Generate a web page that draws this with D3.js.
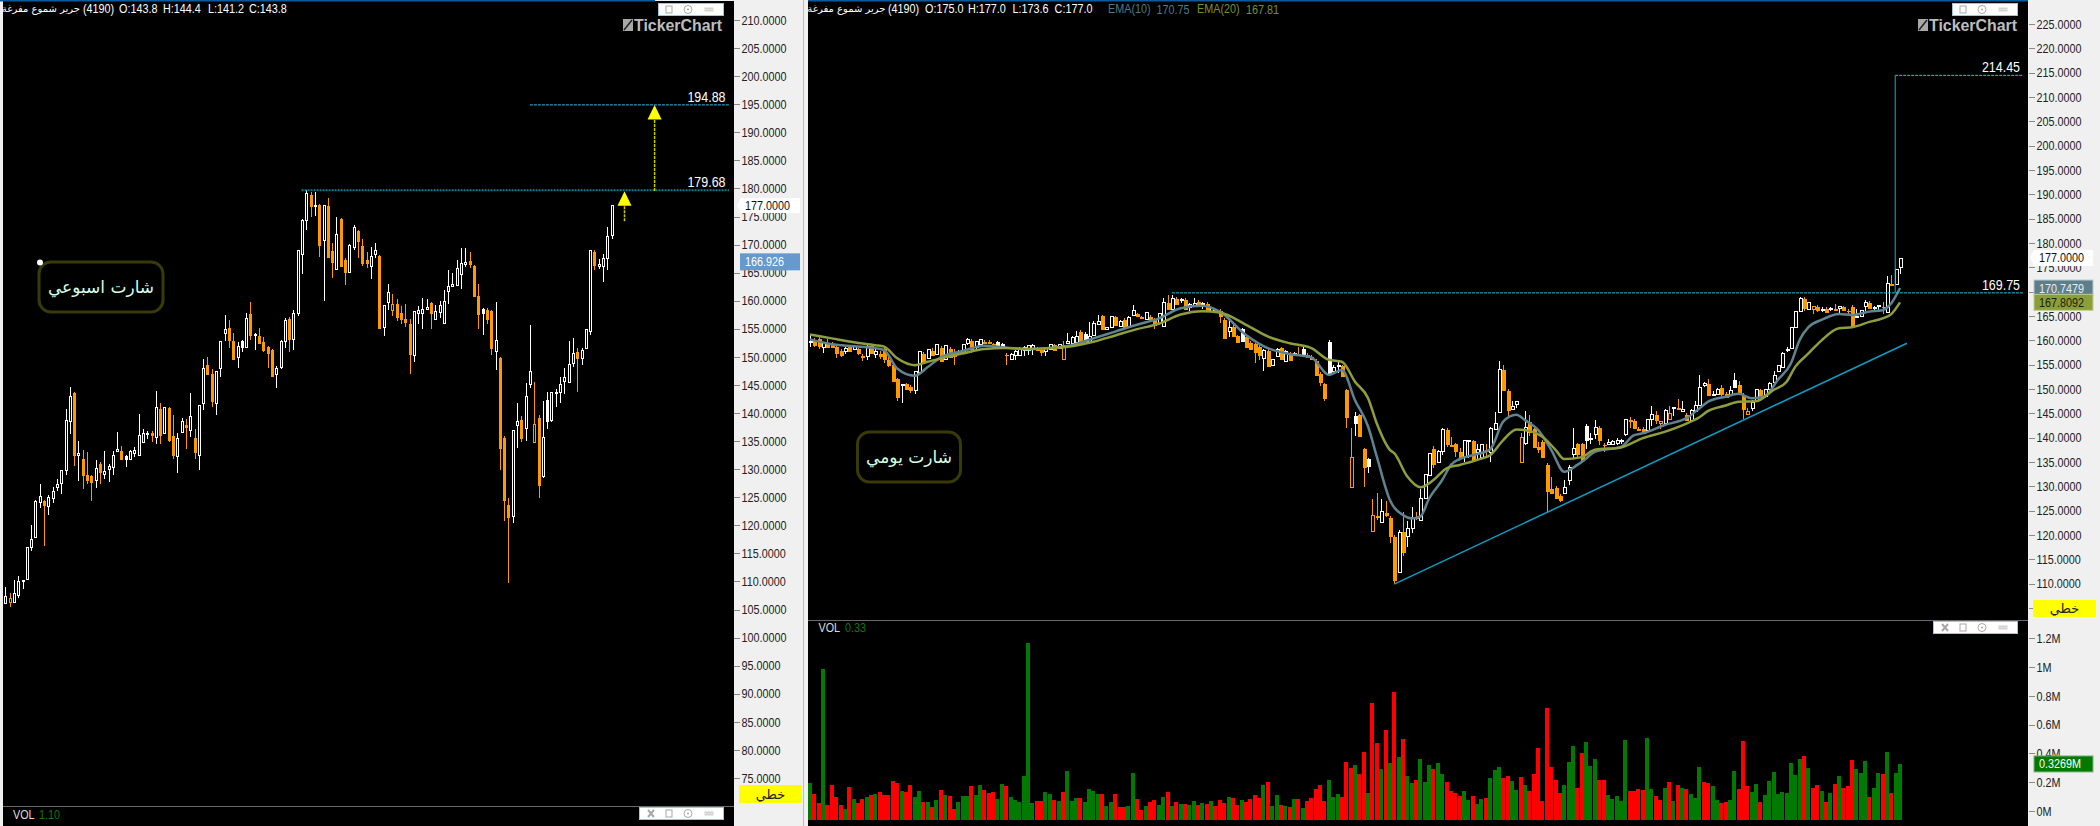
<!DOCTYPE html>
<html><head><meta charset="utf-8">
<script src="https://cdnjs.cloudflare.com/ajax/libs/d3/7.8.5/d3.min.js"></script>
<style>
html,body{margin:0;padding:0;background:#f0f0f0;overflow:hidden}
svg{display:block}
text{font-family:"Liberation Sans",sans-serif}
.ar{font-family:"DejaVu Sans","Noto Sans",sans-serif}
.axis path.domain{display:none}
.axis line{stroke:#8a8a8a;shape-rendering:crispEdges}
.axis text{fill:#222;font-size:13px}
</style></head><body><svg id="c" width="2100" height="826"></svg>
<script>
// ---- weekly chart
const weeklyOpen=[106.1,107.0,106.3,107.6,110.0,110.5,116.2,118.0,124.2,124.5,
123.5,124.9,126.9,127.5,129.8,138.5,143.7,132.6,132.0,129.1,
129.0,128.1,131.1,129.2,130.1,130.4,133.3,133.4,131.8,131.9,
132.9,132.6,134.9,136.3,136.6,135.7,140.9,136.4,141.1,136.1,
132.4,136.6,138.0,137.0,135.7,132.6,141.7,148.8,147.1,141.8,
148.0,154.2,155.3,153.0,149.9,151.8,151.8,157.8,153.9,153.9,
152.8,152.0,151.4,146.9,148.2,152.9,156.9,153.2,157.9,168.3,
174.4,179.0,176.9,177.2,170.9,177.0,169.0,165.7,174.7,167.4,
165.2,169.6,172.6,169.9,167.4,166.1,168.3,168.1,155.4,159.8,
159.5,159.6,158.0,156.9,156.0,150.3,157.8,157.8,158.5,159.8,
156.7,158.0,156.1,161.8,162.6,162.8,164.8,166.5,167.3,166.4,
161.0,157.8,158.5,158.4,151.1,150.0,135.7,123.8,121.7,137.9,
138.9,137.4,145.2,138.0,139.3,128.8,138.6,138.8,143.6,143.7,
145.7,145.5,148.9,151.0,149.8,151.6,154.6,168.9,166.2,166.2,
167.7,171.7];
const weeklyHigh=[109.0,107.9,110.3,111.0,110.3,116.1,120.0,124.6,127.3,124.5,
125.4,126.8,128.2,129.8,140.8,144.6,143.7,135.0,133.4,133.1,
129.0,131.7,131.3,133.2,130.9,133.2,136.6,134.1,132.5,133.4,
133.9,139.9,137.2,136.8,136.8,143.9,141.8,141.1,141.1,139.6,
136.4,139.2,138.9,143.6,137.2,141.5,149.7,149.9,147.8,147.4,
152.9,157.5,156.6,154.3,152.6,153.0,157.9,159.8,154.2,155.1,
153.5,152.0,151.4,148.3,153.0,156.9,157.1,158.4,169.0,174.5,
179.7,179.4,179.4,177.2,177.1,178.3,170.3,174.9,174.7,167.7,
170.1,173.5,172.6,171.0,168.6,169.6,170.2,168.1,159.2,163.0,
161.2,160.3,159.1,159.4,156.7,158.2,159.1,160.5,160.3,159.8,
159.2,160.0,161.9,165.5,164.9,167.3,169.4,169.4,168.7,166.4,
163.0,158.7,158.7,158.4,159.8,150.0,135.9,124.9,137.0,141.8,
139.5,145.3,155.7,145.5,139.6,142.1,143.7,143.7,144.3,146.4,
148.0,152.8,153.4,151.6,151.6,155.0,169.0,169.0,167.4,168.3,
173.1,177.0];
const weeklyLow=[106.1,105.5,106.2,107.1,108.7,110.5,115.5,118.0,123.0,116.4,
121.9,124.0,126.1,125.6,129.0,136.3,130.6,127.9,126.5,127.4,
124.4,126.7,127.4,128.2,127.8,129.0,133.3,131.8,130.4,131.9,
132.1,132.6,134.9,135.4,134.9,134.5,134.5,136.3,134.9,131.9,
129.4,136.6,133.6,135.8,131.9,129.9,140.6,146.8,141.0,139.7,
146.4,152.9,151.6,149.6,148.0,150.9,151.5,153.0,151.2,152.3,
150.9,148.0,146.6,144.5,147.8,151.6,150.9,151.2,157.3,164.8,
172.6,174.9,175.1,167.8,160.0,167.8,164.0,165.7,166.2,162.8,
165.2,169.0,167.6,166.2,165.8,163.9,167.6,155.2,153.7,158.4,
157.3,156.4,155.9,155.3,146.9,149.1,155.9,155.0,158.4,155.0,
156.7,156.9,156.1,159.4,162.4,162.8,162.1,166.0,165.8,160.7,
155.0,153.9,155.9,150.3,147.7,129.9,120.8,109.7,120.4,133.8,
134.8,135.0,144.5,134.9,124.9,128.4,137.2,138.4,141.1,141.8,
143.4,145.5,148.2,143.7,148.5,151.6,153.9,165.5,165.6,163.3,
165.5,171.0];
const weeklyClose=[107.4,106.4,107.9,110.0,110.2,116.1,117.6,124.3,125.3,123.6,
125.0,126.2,127.4,129.8,138.7,143.1,132.5,132.8,129.0,128.1,
127.7,130.3,129.5,129.6,130.5,132.6,133.6,131.8,132.5,133.3,
133.5,136.0,136.4,136.4,136.1,141.0,136.1,141.0,135.2,132.5,
135.5,138.5,137.5,139.4,133.1,141.4,148.1,146.9,142.1,147.4,
152.9,154.9,153.0,149.7,151.9,153.0,157.0,153.9,154.0,152.4,
151.3,150.7,146.6,148.0,152.9,156.5,153.2,157.9,169.0,174.4,
179.2,176.9,177.0,169.9,177.0,167.8,166.9,171.8,166.2,165.2,
169.9,173.1,170.6,166.7,166.7,167.9,169.0,155.2,159.2,161.5,
158.4,157.1,156.7,156.2,150.5,158.1,158.3,158.5,158.9,157.8,
158.2,159.2,160.0,162.6,162.9,165.8,166.7,166.9,166.5,160.8,
157.6,158.7,156.7,151.6,153.0,133.8,124.5,121.5,136.9,138.5,
135.5,143.0,147.4,134.9,127.2,135.7,142.5,143.7,143.7,145.1,
146.4,148.8,150.7,149.8,151.2,154.9,169.0,166.4,166.5,167.7,
171.6,177.0];
const weeklyHollowOrange=[1,90,123];
const weeklySolidWhite=[28,55,111,126];
const weeklyTicks=[210,205,200,195,190,185,180,175,170,165,160,155,150,145,140,135,130,125,120,115,110,105,100,95,90,85,80,75];

// ---- daily chart
const dailyOpen=[159.6,160.2,160.4,158.7,159.7,159.5,158.8,158.0,157.9,158.8,
158.2,158.4,157.0,156.8,159.0,157.2,157.5,158.5,156.2,155.1,
152.2,150.8,151.2,150.6,149.7,153.4,157.5,156.4,158.0,157.2,
158.7,156.1,158.5,157.9,157.2,157.5,159.5,160.1,158.7,159.2,
159.9,159.9,159.4,159.0,158.8,157.2,156.1,157.0,156.9,158.0,
158.0,158.4,158.5,158.2,157.9,158.2,159.2,158.5,159.0,159.5,
159.5,159.7,161.9,159.8,159.7,161.0,163.3,165.2,162.4,162.7,
165.0,163.0,164.3,162.8,165.3,165.6,165.0,164.3,165.1,164.3,
163.6,163.0,167.9,166.4,168.8,168.3,168.4,166.8,167.1,168.1,
167.5,167.7,166.1,166.4,166.2,164.3,161.9,162.9,161.0,159.9,
160.9,159.7,159.4,158.8,156.3,158.0,154.9,156.8,158.6,155.8,
157.5,157.2,157.3,157.1,157.2,156.8,156.0,153.2,151.2,153.2,
153.8,154.7,154.9,149.9,136.1,143.1,144.8,137.8,134.2,124.2,
124.1,122.7,124.7,123.7,119.8,112.5,120.8,119.7,121.5,124.0,
123.0,127.7,132.3,137.9,134.9,137.3,141.8,138.8,138.9,137.2,
136.2,139.3,139.5,137.1,136.1,137.7,137.0,141.8,145.2,154.2,
149.8,145.8,146.9,140.1,139.0,143.4,141.9,138.3,139.3,134.6,
129.7,129.9,128.2,128.7,131.4,136.7,138.9,138.9,139.6,139.7,
140.8,142.2,138.8,138.8,138.8,138.9,139.4,140.8,143.8,143.6,
142.0,142.0,141.6,143.8,144.9,143.4,143.0,145.0,146.0,146.3,
145.5,144.9,143.7,145.5,146.8,150.8,151.2,148.8,149.0,150.4,
149.2,148.8,150.5,151.0,149.0,145.4,146.0,147.5,150.0,148.6,
149.9,151.5,153.8,154.6,158.0,158.5,162.8,166.0,168.6,166.5,
167.0,167.0,166.2,166.6,166.4,166.6,166.7,167.0,166.3,167.0,
164.9,164.9,167.0,167.8,166.6,167.0,167.0,165.9,171.7,171.6,
175.0];
const dailyHigh=[161.1,160.4,160.6,159.7,160.2,159.7,158.9,158.2,158.6,159.0,
159.0,158.5,157.1,159.0,159.2,158.4,157.9,158.6,156.6,155.3,
152.3,151.1,151.3,150.8,153.7,157.9,157.6,158.3,158.4,159.3,
158.8,159.1,158.6,158.2,158.0,159.3,160.5,160.2,159.9,160.3,
160.0,160.0,159.5,159.9,159.5,157.3,157.3,158.1,158.6,158.8,
159.1,159.2,158.6,158.3,158.6,159.3,159.3,159.3,159.9,161.6,
160.9,161.9,162.1,161.8,163.8,163.9,165.3,165.3,162.8,165.1,
165.1,164.2,164.5,164.9,167.3,165.7,165.1,165.9,165.3,164.5,
165.7,168.8,169.3,169.3,169.0,168.6,168.6,167.6,168.6,168.2,
167.9,167.9,166.8,166.5,166.4,164.5,164.2,163.1,161.1,162.6,
161.0,159.9,159.5,159.0,158.2,158.2,156.2,158.4,158.7,158.0,
157.7,157.6,158.7,158.6,157.3,156.9,156.1,153.4,151.3,160.0,
154.9,155.6,155.0,150.1,141.9,145.3,144.9,137.9,135.9,127.3,
128.6,127.5,127.0,123.9,120.0,121.0,124.7,122.9,125.7,124.7,
129.4,132.6,136.9,138.3,137.4,141.9,141.9,140.1,139.0,137.8,
139.6,139.6,139.6,138.6,138.8,138.7,142.1,145.2,155.8,154.9,
150.0,147.5,147.6,140.9,145.5,144.7,142.1,139.2,139.5,134.7,
131.9,130.0,128.4,131.4,134.4,141.9,139.0,139.0,142.8,140.9,
143.6,142.3,138.9,139.8,139.5,139.9,139.8,143.9,144.2,143.8,
142.1,142.2,143.9,146.6,145.4,143.5,145.8,146.6,146.4,148.0,
147.5,145.0,145.8,147.5,152.9,151.5,152.1,149.6,150.3,150.8,
149.3,150.6,153.3,151.6,149.1,146.0,147.7,150.1,150.1,150.1,
151.4,153.8,155.0,157.7,158.7,162.8,166.1,169.0,169.0,167.9,
167.1,167.2,166.9,166.8,166.9,167.5,167.1,167.1,166.4,167.2,
166.4,166.3,168.3,168.0,167.1,167.3,167.9,173.2,173.4,174.7,
177.0];
const dailyLow=[158.7,158.7,158.2,157.5,158.4,158.5,156.4,156.6,157.2,157.7,
158.0,157.0,155.8,156.0,157.2,156.4,156.1,155.4,154.5,151.5,
147.6,147.1,149.9,149.1,149.0,152.9,155.5,156.2,156.8,157.1,
155.6,156.0,156.4,154.9,157.0,157.3,159.0,157.5,158.0,159.1,
159.2,159.2,158.4,158.8,158.7,154.9,156.0,156.0,156.7,156.8,
157.0,157.0,157.9,156.8,156.8,158.0,157.9,158.4,156.0,159.4,
159.4,159.6,159.5,159.7,159.5,160.8,163.2,162.3,162.3,162.5,
163.0,162.8,162.7,162.7,164.9,164.7,164.4,164.2,164.0,162.3,
163.5,162.9,166.3,166.3,167.4,167.6,166.4,166.1,166.9,167.1,
166.4,166.0,166.0,165.6,163.5,160.4,160.6,160.6,159.6,159.7,
158.6,158.0,155.3,156.0,153.8,154.6,154.7,156.6,156.1,155.7,
155.8,157.1,156.8,156.9,156.4,156.0,152.7,150.6,147.6,152.9,
153.4,153.2,152.5,141.9,129.7,140.3,140.1,129.8,132.8,120.6,
123.1,122.6,123.8,118.4,109.9,112.3,115.6,117.6,120.5,123.0,
122.8,127.5,132.1,133.8,134.8,136.4,138.0,138.2,136.1,135.8,
134.9,135.8,135.3,135.6,136.0,136.0,135.1,141.6,145.1,149.7,
144.5,145.7,146.1,134.7,138.5,140.3,137.8,136.8,135.8,124.7,
128.6,127.5,126.8,128.4,130.3,135.8,136.0,135.3,137.7,138.7,
139.8,138.4,137.1,138.4,138.4,138.4,138.6,140.3,141.9,141.9,
141.4,140.9,141.4,142.4,142.8,141.7,142.8,143.6,144.5,145.6,
145.4,143.5,143.6,145.4,146.6,150.4,148.6,148.7,148.8,148.4,
148.3,148.6,150.2,148.8,143.8,144.8,145.5,147.4,148.5,148.5,
149.7,151.4,153.6,154.4,157.7,158.4,162.7,165.8,166.0,166.3,
165.4,165.8,165.9,165.6,166.0,166.1,165.6,166.0,165.2,163.0,
164.7,164.7,166.0,166.4,166.2,166.3,165.5,165.8,171.3,171.4,
173.6];
const dailyClose=[159.9,159.0,158.8,159.6,158.6,158.7,157.3,157.0,158.5,157.9,
158.8,157.5,156.6,158.9,157.5,157.9,156.8,156.2,154.9,151.6,
148.3,151.0,150.1,149.8,153.6,157.8,155.6,158.2,157.0,159.2,
155.8,159.0,156.5,156.8,157.9,159.2,160.2,158.2,159.8,160.2,
159.4,159.4,158.7,159.8,159.4,157.0,157.1,157.9,158.5,158.7,
159.0,159.1,158.0,157.6,158.5,159.2,158.0,159.2,156.1,159.9,
160.6,160.9,159.7,161.6,160.8,163.5,164.0,162.4,162.7,165.0,
163.1,164.0,162.8,164.7,166.2,165.1,164.5,165.8,164.2,163.1,
165.6,167.8,166.4,168.6,167.5,168.4,166.5,167.4,167.7,167.3,
167.7,166.1,166.6,166.1,164.9,160.5,162.7,160.8,159.7,162.5,
158.7,158.2,157.7,157.0,158.0,154.7,156.1,158.2,156.2,157.9,
156.0,157.5,156.9,158.4,156.5,156.1,152.9,151.4,148.2,159.9,
154.6,154.9,152.7,144.3,129.8,144.7,140.3,133.9,135.8,120.8,
123.8,124.9,124.2,119.7,110.8,120.6,116.5,121.4,123.8,123.5,
127.7,132.5,136.8,134.6,137.3,141.7,138.8,138.3,137.3,136.1,
139.5,139.5,135.4,137.7,138.6,137.3,141.9,143.0,154.2,149.8,
145.7,146.6,147.5,134.9,142.1,141.2,138.0,137.7,136.0,129.0,
128.7,127.7,127.2,129.8,134.0,137.8,136.7,135.4,142.6,139.9,
142.1,139.5,138.4,139.2,139.4,139.5,139.5,143.8,143.4,142.0,
141.6,141.0,143.8,144.8,143.6,143.0,145.6,143.8,146.2,145.8,
145.8,143.6,145.6,146.8,150.5,151.2,148.8,149.0,150.0,149.0,
148.4,149.7,152.0,149.1,145.9,144.9,147.3,149.9,148.6,149.9,
151.2,152.8,154.9,157.5,158.2,162.7,166.0,168.8,166.6,167.8,
166.5,166.3,166.4,165.8,166.7,166.3,167.0,166.2,166.0,163.2,
165.1,166.2,167.8,166.6,166.8,167.2,166.9,171.7,171.4,174.6,
177.0];
const dailyHollowOrange=[58,124,129,163,195,197,215,230];
const dailySolidWhite=[43,44,63,99,113,119,125,128,178,212];
const ema10Idx=[0,5,10,15,17,20,24,27,30,35,40,45,50,55,60,65,70,75,80,85,90,94,100,105,110,115,119,122,125,128,130,133,136,138,140,142,145,147,149,152,156,159,162,164,167,170,173,176,178,180,186,189,191,196,201,204,206,210,213,216,219,222,225,227,229,232,236,239,243,246,248,250];
const ema10Val=[160.2,159.2,158.8,158.4,158.0,154.2,152.7,154.5,156.5,157.8,158.9,158.5,158.2,158.4,159.0,160.4,161.8,163.2,164.5,166.6,167.1,165.9,161.1,158.4,157.2,156.5,152.9,153.9,147.7,142.3,136.1,127.2,124.1,123.4,123.8,127.5,131.3,134.4,135.6,136.4,137.6,143.3,144.7,143.6,141.6,137.5,133.0,134.4,135.7,137.1,138.1,140.5,140.9,142.6,144.0,146.0,147.4,148.4,149.0,148.1,148.5,151.9,155.3,160.1,162.7,164.2,165.4,165.2,165.9,166.2,167.6,170.75];
const ema20Idx=[0,5,10,15,17,20,24,27,30,35,40,45,50,55,60,65,70,75,80,85,90,94,100,105,110,115,119,122,125,128,130,133,134,137,140,143,146,149,154,156,159,162,165,168,171,173,177,180,186,191,196,201,204,206,210,213,217,221,224,226,229,232,236,239,243,246,248,250];
const ema20Val=[161.2,160.4,159.6,159.0,158.7,156.3,154.9,155.6,156.3,157.3,158.2,158.4,158.2,158.4,158.8,159.7,161.0,162.3,163.4,165.3,166.0,165.7,163.2,160.8,159.4,158.4,156.0,155.6,151.5,148.1,142.9,137.5,136.8,132.0,129.8,131.3,133.7,134.4,135.7,136.4,139.5,141.7,141.4,140.2,137.5,135.6,136.0,137.5,138.0,139.9,141.2,142.9,144.2,145.5,146.6,147.4,147.5,149.8,151.5,154.6,157.3,160.0,162.5,162.7,163.8,164.5,165.4,167.81];
const dailyTicks=[225,220,215,210,205,200,195,190,185,180,175,170,165,160,155,150,145,140,135,130,125,120,115,110,105];

// ---- daily volume (thousand shares)
const volumeK=[195,118,56,987,42,181,97,42,14,167,
83,56,83,97,111,118,132,111,111,209,
195,139,132,181,97,139,63,63,28,76,
146,111,104,14,63,104,104,174,111,181,
146,125,132,83,188,174,97,76,63,243,
1168,56,70,70,132,118,76,70,132,278,
70,90,90,63,153,139,118,118,35,63,
118,28,28,35,264,83,7,35,63,76,
42,97,132,35,63,49,49,42,70,42,
56,49,70,35,76,56,97,90,42,76,
63,83,111,90,181,202,35,111,42,35,
28,83,83,21,70,90,153,181,70,215,
97,118,97,341,299,320,257,410,125,751,
473,292,563,334,827,375,500,243,195,215,
361,202,320,292,334,257,202,139,125,
104,139,76,104,49,83,90,229,285,306,
229,243,209,146,236,181,139,257,438,70,
716,306,215,125,181,341,452,160,403,480,
313,361,215,215,111,83,104,70,494,139,
139,153,146,507,153,104,76,160,202,70,
181,160,153,118,90,306,202,195,174,76,
56,63,76,278,153,487,174,132,188,63,
111,209,271,118,132,125,334,250,361,382,
299,160,181,139,63,125,188,243,160,174,
354,292,264,348,97,160,264,257,410,125,
264,327];
const volumeSide=("GRRGRRRRGR"+"GRRGRGRRRR"+"RGRRGGRGRG"+"RGRRGGGRGG"+"RRRGGRGGGG"+"GGRRGGRGRG"+"GGRGGGGRGG"+"RRRGGRRGRR"+"GGRGRGRGGR"+"GRGRRRGRRG"+"RRRRGRGGRG"+"RGRGRRRRRG"+"GGRRRGRRGR"+"RGRGRGRGGR"+"GGGRGGRRR"
 +"RGGRGGRGGG"+"RRGGRGRRRR"+"RRRRGGGRRG"+"GGRRGGGGGR"+"RRRGGRRGRG"+"RGRGGGRRGG"+"RRGGRRRGGR"+"GGGGGGGGGR"+"GRRGRGRGRR"+"RGGGRGGRGR"+"GG").split("");
const volumeTicks=[0,200,400,600,800,1000,1200];

// ---- annotations
const weeklyLevels=[194.88,179.68];
const dailyLevels=[214.45,169.75];
const weeklyHeader=["O:143.8","H:144.4","L:141.2","C:143.8"];
const dailyHeader=["O:175.0","H:177.0","L:173.6","C:177.0"];
const stockName="جرير شموع مفرغة";

const ORANGE="#ff9900",BLACK="#000";
const svg=d3.select("#c");
const rect=(g,x,y,w,h,fill)=>g.append("rect").attr("x",x).attr("y",y).attr("width",w).attr("height",h).attr("fill",fill);
const txt=(g,s,x,y,size,fill,anchor)=>g.append("text").text(s).attr("x",x).attr("y",y).attr("font-size",size).attr("fill",fill).attr("dominant-baseline","central").attr("text-anchor",anchor||"start");

// panels
rect(svg,0,0,2100,826,"#f0f0f0");
rect(svg,803,0,1,826,"#bdbdbd");
rect(svg,3,1,731,825,BLACK);
rect(svg,808,1,1220,825,BLACK);
rect(svg,0,0,655,1.5,"#0a5a9c");
rect(svg,808,0,1220,1.5,"#0a5a9c");
rect(svg,3,806,731,1,"#6a6a6a");
rect(svg,808,620,1220,1,"#6a6a6a");

const wx=d3.scaleLinear().domain([0,141]).range([5.3,611.6]);
const wy=d3.scaleLinear().domain([75,210]).range([778,20]);
const dx=d3.scaleLinear().domain([0,250]).range([810,1900]);
const dy=d3.scaleLinear().domain([105,225]).range([608,24]);
const vy=d3.scaleLinear().domain([0,1200]).range([811,638.3]);
const VOL_BOTTOM=820;

function candles(g,xs,ys,o,h,l,c,hollowOrange,solidWhite,bw){
  const rows=d3.range(o.length);
  const hoSet=new Set(hollowOrange),swSet=new Set(solidWhite);
  const isDown=i=>c[i]<o[i];
  const col=i=>isDown(i)?ORANGE:"#fff";
  const cx=i=>Math.round(xs(i));
  g.selectAll("line.w").data(rows).join("line").attr("class","w")
    .attr("x1",i=>cx(i)+.5).attr("x2",i=>cx(i)+.5)
    .attr("y1",i=>ys(h[i])).attr("y2",i=>ys(l[i]))
    .attr("stroke",col).attr("stroke-width",1).attr("shape-rendering","crispEdges");
  g.selectAll("rect.b").data(rows).join("rect").attr("class","b")
    .attr("x",i=>{const filled=(isDown(i)&&!hoSet.has(i))||swSet.has(i);return filled?cx(i)+.5-bw/2:cx(i)+1-bw/2;})
    .attr("width",i=>{const filled=(isDown(i)&&!hoSet.has(i))||swSet.has(i);return filled?bw:bw-1;})
    .attr("y",i=>Math.round(ys(Math.max(o[i],c[i])))+.5)
    .attr("height",i=>Math.max(1,Math.round(ys(Math.min(o[i],c[i])))-Math.round(ys(Math.max(o[i],c[i])))))
    .attr("fill",i=>hoSet.has(i)?BLACK:(swSet.has(i)?"#fff":(isDown(i)?ORANGE:BLACK)))
    .attr("stroke",i=>{const filled=(isDown(i)&&!hoSet.has(i))||swSet.has(i);return filled?"none":col(i);})
    .attr("stroke-width",1).attr("shape-rendering","crispEdges");
}

function axis(x,scale,ticks,fmt){
  return svg.append("g").attr("class","axis").attr("transform",`translate(${x},0)`)
    .call(d3.axisRight(scale).tickValues(ticks).tickFormat(fmt).tickSize(6).tickPadding(2));
}
function controls(x,y,w,hasClose){
  const g=svg.append("g");
  rect(g,x+.5,y+.5,w,12,"#fff").attr("stroke","#9cc4e8").attr("stroke-width",1);
  if(hasClose){
    const cxx=x+12;
    g.append("path").attr("d",`M${cxx-3} ${y+3}L${cxx+3} ${y+10}M${cxx+3} ${y+3}L${cxx-3} ${y+10}`).attr("stroke","#a8a8a8").attr("stroke-width",2);
  }
  const right=x+w;
  g.append("rect").attr("x",right-57).attr("y",y+3).attr("width",6).attr("height",7).attr("fill","#fff").attr("stroke","#a8a8a8");
  g.append("circle").attr("cx",right-35).attr("cy",y+6.5).attr("r",4).attr("fill","#fff").attr("stroke","#a8a8a8");
  g.append("circle").attr("cx",right-35).attr("cy",y+6.5).attr("r",1).attr("fill","#a8a8a8");
  [-18,-15,-12].forEach(d=>g.append("rect").attr("x",right+d).attr("y",y+5).attr("width",2).attr("height",3).attr("fill","#fff").attr("stroke","#a8a8a8").attr("stroke-width",.6));
}
function logo(x,y){
  const g=svg.append("g");
  rect(g,x,y-6,10,12,"#a8a8a8");
  g.append("path").attr("d",`M${x+1} ${y+5}L${x+9} ${y-5}`).attr("stroke","#222").attr("stroke-width",1.5);
  txt(g,"TickerChart",x+11,y,16,"#bdbdbd").attr("class","logo").attr("font-weight","bold").attr("textLength",88).attr("lengthAdjust","spacingAndGlyphs");
}
function note(cxp,cyp,w,h,s,size){
  const g=svg.append("g");
  g.append("rect").attr("x",cxp-w/2).attr("y",cyp-h/2).attr("width",w).attr("height",h).attr("rx",12).attr("fill",BLACK).attr("stroke","#3a3a08").attr("stroke-width",3);
  g.append("text").attr("class","ar").text(s).attr("x",cxp).attr("y",cyp).attr("text-anchor","middle").attr("dominant-baseline","central").attr("font-size",size).attr("fill","#d6ffe6").attr("direction","rtl");
}
function tag(x,yc,w,h,fill,label,color,stroke){
  const r=rect(svg,x,yc-h/2,w,h,fill);
  if(stroke) r.attr("stroke",stroke).attr("stroke-width",1);
  txt(svg,label,x+5,yc,13,color);
}
function yellowBtn(x,y,w,h){
  rect(svg,x,y,w,h,"#ffff00");
  svg.append("text").attr("class","ar").text("خطي").attr("x",x+w/2).attr("y",y+h/2).attr("text-anchor","middle").attr("dominant-baseline","central").attr("font-size",13).attr("fill","#222");
}
function arabicHeader(xRight){
  svg.append("text").attr("class","ar").text(stockName).attr("x",xRight).attr("y",8).attr("font-size",10).attr("fill","#fff").attr("dominant-baseline","central").attr("direction","rtl").attr("text-anchor","start");
}

// ===== weekly
axis(733.5,wy,weeklyTicks,d3.format(".4f"));
const gw=svg.append("g");
candles(gw,wx,wy,weeklyOpen,weeklyHigh,weeklyLow,weeklyClose,weeklyHollowOrange,weeklySolidWhite,3);
gw.append("line").attr("x1",wx(68.9)).attr("x2",729).attr("y1",wy(weeklyLevels[1])).attr("y2",wy(weeklyLevels[1])).attr("stroke","#0f7d90").attr("stroke-width",2).attr("stroke-dasharray","2 1");
gw.append("line").attr("x1",wx(122)).attr("x2",729).attr("y1",wy(weeklyLevels[0])).attr("y2",wy(weeklyLevels[0])).attr("stroke","#2cc0e4").attr("stroke-width",1).attr("stroke-dasharray","3 1");
txt(gw,"194.88",725.5,96.7,15,"#fff","end");
txt(gw,"179.68",725.5,181.7,15,"#fff","end");
function arrow(g,x,yTip,yTail){
  g.append("line").attr("x1",x).attr("x2",x).attr("y1",yTip+15).attr("y2",yTail).attr("stroke","#c9c900").attr("stroke-width",1.5).attr("stroke-dasharray","3 1");
  g.append("path").attr("d",`M${x} ${yTip}L${x+7} ${yTip+14.5}L${x-7} ${yTip+14.5}Z`).attr("fill","#ffff00");
}
arrow(gw,wx(151),wy(194.88),wy(179.5));
arrow(gw,wx(144),wy(179.5),wy(174.1));
note(101,287,124,50,"شارت اسبوعي",17);
svg.append("circle").attr("cx",40).attr("cy",262.5).attr("r",3).attr("fill","#fff");
arabicHeader(80);
txt(svg,"(4190)",83,8,13,"#fff");
[119,163,208,249].forEach((x,i)=>txt(svg,weeklyHeader[i],x,8,13,"#fff"));
controls(658,3,65,false);
logo(623,25);
controls(639,807,84,true);
txt(svg,"VOL",13,814,13,"#ddd");
txt(svg,"1.10",39,814,13,"#0a7a0a");
svg.append("path").attr("d",`M737 ${wy(177)}L741 198H800V213H741Z`).attr("fill","#fff");
txt(svg,"177.0000",745,wy(177),13,"#111");
tag(740,wy(166.926),60,17,"#6699cc","166.926","#fff");
yellowBtn(739,785,63,18);

// ===== daily
axis(2028.5,dy,dailyTicks,d3.format(".4f"));
axis(2028.5,vy,volumeTicks,d=>(d/1000)+"M");
const gd=svg.append("g");
candles(gd,dx,dy,dailyOpen,dailyHigh,dailyLow,dailyClose,dailyHollowOrange,dailySolidWhite,4);
const curve=(idx,val)=>d3.line().x(i=>dx(idx[i])).y(i=>dy(val[i])).curve(d3.curveMonotoneX)(d3.range(idx.length));
gd.append("path").attr("d",curve(ema10Idx,ema10Val)).attr("fill","none").attr("stroke","#5f8491").attr("stroke-width",2.5);
gd.append("path").attr("d",curve(ema20Idx,ema20Val)).attr("fill","none").attr("stroke","#8f9e3c").attr("stroke-width",2.5);
gd.append("line").attr("x1",dx(83)).attr("x2",2023).attr("y1",dy(dailyLevels[1])).attr("y2",dy(dailyLevels[1])).attr("stroke","#2cc0e4").attr("stroke-width",1).attr("stroke-dasharray","3 1");
gd.append("line").attr("x1",dx(248.9)).attr("x2",2023).attr("y1",dy(dailyLevels[0])).attr("y2",dy(dailyLevels[0])).attr("stroke","#2cc0e4").attr("stroke-width",1).attr("stroke-dasharray","3 1");
gd.append("line").attr("x1",dx(248.9)).attr("x2",dx(248.9)).attr("y1",dy(dailyLevels[0])).attr("y2",dy(dailyLevels[1])).attr("stroke","#1ea7c9").attr("stroke-width",1);
gd.append("line").attr("x1",dx(134)).attr("y1",dy(109.9)).attr("x2",dx(251.6)).attr("y2",dy(159.4)).attr("stroke","#0e9cc4").attr("stroke-width",1.5);
txt(gd,"214.45",2020,66.7,15,"#fff","end");
txt(gd,"169.75",2020,284,15,"#fff","end");
note(909,457,103,50,"شارت يومي",17);
arabicHeader(885.5);
txt(svg,"(4190)",888,8,13,"#fff");
[925,968,1012.5,1054.6].forEach((x,i)=>txt(svg,dailyHeader[i],x,8,13,"#fff"));
txt(svg,"EMA(10)",1108,8,13,"#4f7a88");
txt(svg,"170.75",1156.5,9,13,"#4f7a88");
txt(svg,"EMA(20)",1197,8,13,"#7d8f2c");
txt(svg,"167.81",1246,9,13,"#7d8f2c");
controls(1952,3,65,false);
logo(1918,25);
controls(1933,621,84,true);
txt(svg,"VOL",818.5,627,13,"#ddd");
txt(svg,"0.33",845,627,13,"#0a7a0a");
svg.append("g").selectAll("rect").data(d3.range(volumeK.length)).join("rect")
  .attr("x",i=>Math.round(dx(i))-2).attr("width",4)
  .attr("y",i=>vy(volumeK[i])).attr("height",i=>VOL_BOTTOM-vy(volumeK[i]))
  .attr("fill",i=>volumeSide[i]==="G"?"#007a00":"#ff0000").attr("shape-rendering","crispEdges");
svg.append("path").attr("d",`M2030 ${dy(177)}L2034 250H2093V266H2034Z`).attr("fill","#fff");
txt(svg,"177.0000",2039,dy(177),13,"#111");
tag(2034,dy(170.7479),59,16,"#5e7e8a","170.7479","#e8eef0","#b9c8cd");
tag(2034,dy(167.8092),59,16,"#8a9e3c","167.8092","#1c2200","#c2cd90");
tag(2034,vy(326.9),59,16,"#007a00","0.3269M","#fff","#7fb27f");
yellowBtn(2033,600,63,17);

// condense the Latin labels to the narrow look of the reference
svg.selectAll("text").filter(function(){return !this.classList.contains("ar")&&!this.classList.contains("logo");})
  .each(function(){const w=this.getComputedTextLength();this.setAttribute("textLength",(w*0.83).toFixed(1));this.setAttribute("lengthAdjust","spacingAndGlyphs");});
</script></body></html>
